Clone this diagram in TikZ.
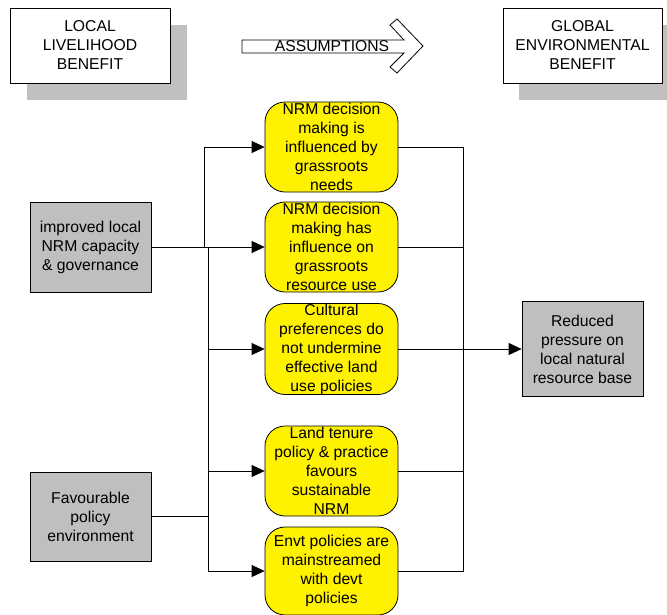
\documentclass[tikz,border=0pt]{standalone}
\usepackage{fontspec}
\setmainfont{Liberation Sans}
\usetikzlibrary{arrows.meta}
\begin{document}
\begin{tikzpicture}[x=1pt,y=-1pt,
  txt/.style={font=\fontsize{15.7}{19}\selectfont, align=center, inner sep=0pt},
  topbox/.style={txt, draw=black, fill=white, line width=0.8pt, minimum width=160pt, minimum height=75pt},
  shadow/.style={fill=black!25, draw=none},
  graybox/.style={txt, draw=black, fill=black!25, line width=0.8pt, minimum width=121pt},
  yelbox/.style={txt, draw=black, fill=yellow, line width=0.8pt, rounded corners=20pt, minimum width=133pt},
  conn/.style={draw=black, line width=0.8pt},
  arr/.style={conn, -{Triangle[length=13pt,width=12pt]}}
]
\useasboundingbox (0,0) rectangle (667,614);
% top row
\fill[shadow] (27,25) rectangle (187,100);
\node[topbox] (local) at (90,45.5) {LOCAL\\LIVELIHOOD\\BENEFIT};
\fill[shadow] (519,25) rectangle (667,100);
\node[topbox, minimum width=159pt] (global) at (582.5,45.5) {GLOBAL\\ENVIRONMENTAL\\BENEFIT};
\draw[line width=0.8pt, fill=white] (242,40) -- (404,40) -- (390,25) -- (397,19) -- (423,46) -- (397,73) -- (390,67) -- (404,53) -- (242,53) -- cycle;
\node[txt] (assump) at (332,46.5) {ASSUMPTIONS};
% left boxes
\node[graybox, minimum height=90pt] (imp) at (90.5,247) {improved local\\NRM capacity\\\& governance};
\node[graybox, minimum height=89pt] (fav) at (90.5,516.5) {Favourable\\policy\\environment};
% yellow boxes
\node[yelbox, minimum height=90pt] (y1) at (331.5,147) {NRM decision\\making is\\influenced by\\grassroots\\needs};
\node[yelbox, minimum height=90pt] (y2) at (331.5,247) {NRM decision\\making has\\influence on\\grassroots\\resource use};
\node[yelbox, minimum height=91pt] (y3) at (331.5,349) {Cultural\\preferences do\\not undermine\\effective land\\use policies};
\node[yelbox, minimum height=90pt] (y4) at (331.5,471) {Land tenure\\policy \& practice\\favours\\sustainable\\NRM};
\node[yelbox, minimum height=88pt] (y5) at (331.5,571) {Envt policies are\\mainstreamed\\with devt\\policies};
% right box
\node[graybox, minimum height=95pt] (red) at (582.5,349) {Reduced\\pressure on\\local natural\\resource base};
% junctions
\coordinate (ju) at (204,247);
\coordinate (jd) at (208,247);
\coordinate (rc) at (463,349);
% left connectors
\draw[conn] (imp.east) -- (jd);
\draw[arr] (ju) |- (y1.west);
\draw[arr] (ju) -- (y2.west);
\draw[arr] (jd) |- (y3.west);
\draw[arr] (jd) |- (y4.west);
\draw[arr] (jd) |- (y5.west);
\draw[conn] (fav.east) -- (fav.east -| jd);
% right connectors
\draw[conn] (y1.east) -| (rc);
\draw[conn] (y2.east) -| (rc);
\draw[conn] (y3.east) -- (rc);
\draw[conn] (y4.east) -| (rc);
\draw[conn] (y5.east) -| (rc);
\draw[arr] (rc) -- (red.west);
\end{tikzpicture}
\end{document}
